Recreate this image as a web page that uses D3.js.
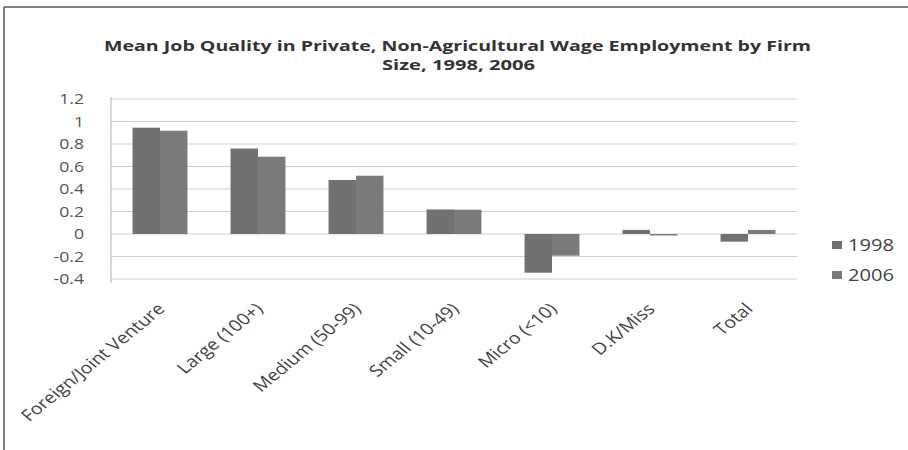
<!DOCTYPE html>
<html>
<head>
<meta charset="utf-8">
<script src="https://cdn.jsdelivr.net/npm/d3@7"></script>
<style>
  body { margin: 0; background: #fff; }
  svg { display: block; font-family: "Open Sans", sans-serif; }
</style>
</head>
<body>
<svg id="chart" width="908" height="450"></svg>
<script>
// ---------------- DATA ----------------
const categories = ["Foreign/Joint Venture", "Large (100+)", "Medium (50-99)", "Small (10-49)", "Micro (<10)", "D.K/Miss", "Total"];
const series = ["1998", "2006"];
const values1998 = [0.945, 0.76, 0.48, 0.218, -0.344, 0.036, -0.068];
const values2006 = [0.918, 0.687, 0.518, 0.216, -0.193, -0.008, 0.036];
const yTicks = [-0.4, -0.2, 0, 0.2, 0.4, 0.6, 0.8, 1, 1.2];
const titleLines = ["Mean Job Quality in Private, Non-Agricultural Wage Employment by Firm", "Size, 1998, 2006"];

const svg = d3.select("#chart");
const colors = { "1998": "#717171", "2006": "#7a7a7a" };
// the scanned chart is stretched sideways, so text gets a horizontal scale
const stretch = 1.22;

// frame (top and left edges only)
svg.append("line").attr("x1", 4).attr("y1", 7).attr("x2", 908).attr("y2", 7)
  .attr("stroke", "#555").attr("stroke-width", 1.5);
svg.append("line").attr("x1", 4).attr("y1", 7).attr("x2", 4).attr("y2", 450)
  .attr("stroke", "#555").attr("stroke-width", 1.5);

// ---------------- SCALES ----------------
const x = d3.scaleBand().domain(categories).range([111, 797]).padding(0);
const bw = x.bandwidth();
const xs = d3.scaleBand().domain(series).range([bw * 0.22, bw * 0.78]).padding(0);
const y = d3.scaleLinear().domain([-0.4, 1.2]).range([279, 99]);

// ---------------- GRID ----------------
svg.append("g")
  .selectAll("line")
  .data(yTicks)
  .join("line")
  .attr("x1", 111).attr("x2", 797)
  .attr("y1", d => y(d)).attr("y2", d => y(d))
  .attr("stroke", "#cfcfcf").attr("stroke-width", 1.2);

// vertical axis line
svg.append("line").attr("x1", 111).attr("x2", 111).attr("y1", 97).attr("y2", 283)
  .attr("stroke", "#bdbdbd").attr("stroke-width", 1.2);

// y tick labels
const yAxis = d3.axisLeft(y).tickValues(yTicks).tickSize(0).tickPadding(0)
  .tickFormat(d => String(+d.toFixed(1)));
const yg = svg.append("g").attr("transform", `translate(84,0) scale(${stretch},1)`).call(yAxis);
yg.select(".domain").remove();
yg.selectAll("text").attr("font-size", 14.5).attr("fill", "#555")
  .attr("font-family", "Open Sans, sans-serif");

// ---------------- BARS ----------------
const rows = categories.map((c, i) => ({ cat: c, vals: [values1998[i], values2006[i]] }));
svg.append("g")
  .selectAll("g")
  .data(rows)
  .join("g")
  .attr("transform", d => `translate(${x(d.cat)},0)`)
  .selectAll("rect")
  .data(d => series.map((s, j) => ({ s, v: d.vals[j] })))
  .join("rect")
  .attr("x", d => xs(d.s))
  .attr("width", xs.bandwidth())
  .attr("y", d => Math.min(y(d.v), y(0)))
  .attr("height", d => Math.max(Math.abs(y(d.v) - y(0)), 1.5))
  .attr("fill", d => colors[d.s]);

// ---------------- X LABELS ----------------
svg.append("g")
  .selectAll("text")
  .data(categories)
  .join("text")
  .attr("transform", d => `translate(${x(d) + bw / 2 + 6},${310}) scale(${stretch},1) rotate(-45)`)
  .attr("text-anchor", "end")
  .attr("font-size", 16)
  .attr("fill", "#444")
  .text(d => d);

// ---------------- TITLE ----------------
svg.append("text").attr("x", 104).attr("y", 51)
  .attr("font-size", 14.5).attr("font-weight", "bold").attr("fill", "#333")
  .attr("textLength", 707).attr("lengthAdjust", "spacingAndGlyphs")
  .text(titleLines[0]);
svg.append("text").attr("x", 382).attr("y", 70)
  .attr("font-size", 14.5).attr("font-weight", "bold").attr("fill", "#333")
  .attr("textLength", 153).attr("lengthAdjust", "spacingAndGlyphs")
  .text(titleLines[1]);

// ---------------- LEGEND ----------------
const legend = svg.append("g")
  .selectAll("g")
  .data(series)
  .join("g")
  .attr("transform", (d, i) => `translate(832,${245 + i * 30})`);
legend.append("rect").attr("x", 0).attr("y", -4).attr("width", 10).attr("height", 8)
  .attr("fill", d => colors[d]);
legend.append("text").attr("transform", `translate(16,0) scale(${stretch},1)`).attr("dy", "0.36em")
  .attr("font-size", 16.5).attr("fill", "#444")
  .text(d => d);
</script>
</body>
</html>
